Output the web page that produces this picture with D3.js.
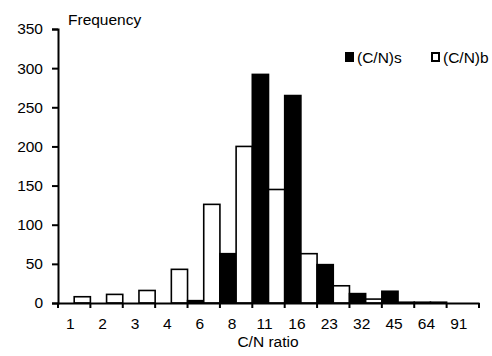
<!DOCTYPE html>
<html>
<head>
  <meta charset="utf-8">
  <title>C/N ratio frequency</title>
  <script src="https://d3js.org/d3.v7.min.js"></script>
  <style>
    body { margin: 0; background: #fff; }
    svg { display: block; font-family: "Liberation Sans", Arial, sans-serif; }
  </style>
</head>
<body>
  <div id="chart"></div>
  <script>
    // C/N ratio classes and frequencies
    const ratios = ["1", "2", "3", "4", "6", "8", "11", "16", "23", "32", "45", "64", "91"];
    const cnS = [0, 0, 0, 0, 3, 63, 292, 265, 49, 12, 15, 1, 0];
    const cnB = [8, 11, 16, 43, 126, 200, 145, 63, 22, 5, 1, 1, 0];
    const seriesNames = ["(C/N)s", "(C/N)b"];
    const yTicks = [0, 50, 100, 150, 200, 250, 300, 350];

    const width = 492, height = 356;
    const fs = "15.5px";

    const svg = d3.select("#chart").append("svg")
      .attr("width", width)
      .attr("height", height);

    const x = d3.scaleBand().domain(ratios).range([58, 479]).padding(0);
    const sub = d3.scaleBand().domain(seriesNames).range([0, x.bandwidth()]).padding(0);
    const y = d3.scaleLinear().domain([0, 350]).range([303, 29]);

    const rows = ratios.map((r, i) => ({ r: r, vals: [cnS[i], cnB[i]] }));

    // bars
    const groups = svg.selectAll("g.cat")
      .data(rows)
      .enter().append("g")
      .attr("class", "cat")
      .attr("transform", d => `translate(${x(d.r)},0)`);

    groups.selectAll("rect")
      .data(d => d.vals.map((v, i) => ({ v: v, name: seriesNames[i] })))
      .enter().append("rect")
      .attr("x", d => sub(d.name))
      .attr("y", d => y(d.v))
      .attr("width", sub.bandwidth())
      .attr("height", d => y(0) - y(d.v))
      .attr("fill", d => d.name === "(C/N)s" ? "#000" : "#fff")
      .attr("stroke", "#000")
      .attr("stroke-width", 1.6);

    // y axis
    const yAxis = svg.append("g")
      .attr("transform", "translate(58,0)")
      .call(d3.axisLeft(y).tickValues(yTicks).tickSize(6).tickPadding(9));
    yAxis.select(".domain").attr("stroke-width", 2);
    yAxis.selectAll(".tick line").attr("stroke-width", 2);
    yAxis.selectAll("text").style("font-size", fs).attr("fill", "#000")
      .style("font-family", "'Liberation Sans', Arial, sans-serif");

    // x axis: labels from the band scale, ticks on class boundaries
    const xAxis = svg.append("g")
      .attr("transform", "translate(0,303)")
      .call(d3.axisBottom(x).tickSize(0).tickPadding(15).tickSizeOuter(0));
    xAxis.select(".domain").attr("stroke-width", 2);
    xAxis.selectAll("text").style("font-size", fs).attr("fill", "#000")
      .attr("dx", -4)
      .style("font-family", "'Liberation Sans', Arial, sans-serif");

    const edges = ratios.map(r => x(r)).concat([x.range()[1]]);
    xAxis.selectAll("line.edge")
      .data(edges)
      .enter().append("line")
      .attr("class", "edge")
      .attr("x1", d => d).attr("x2", d => d)
      .attr("y1", 0).attr("y2", 5)
      .attr("stroke", "#000")
      .attr("stroke-width", 2);

    // titles
    svg.append("text")
      .attr("x", 68).attr("y", 25)
      .style("font-size", fs)
      .text("Frequency");

    svg.append("text")
      .attr("x", 268).attr("y", 347)
      .attr("text-anchor", "middle")
      .style("font-size", fs)
      .text("C/N ratio");

    // legend
    const legendX = [345, 431];
    const legend = svg.selectAll("g.legend")
      .data(seriesNames)
      .enter().append("g")
      .attr("class", "legend")
      .attr("transform", (d, i) => `translate(${legendX[i]},52)`);

    legend.append("rect")
      .attr("x", 1).attr("y", 1)
      .attr("width", 7).attr("height", 8)
      .attr("fill", (d, i) => i === 0 ? "#000" : "#fff")
      .attr("stroke", "#000")
      .attr("stroke-width", 2);

    legend.append("text")
      .attr("x", 12).attr("y", 11)
      .style("font-size", fs)
      .text(d => d);
  </script>
</body>
</html>
